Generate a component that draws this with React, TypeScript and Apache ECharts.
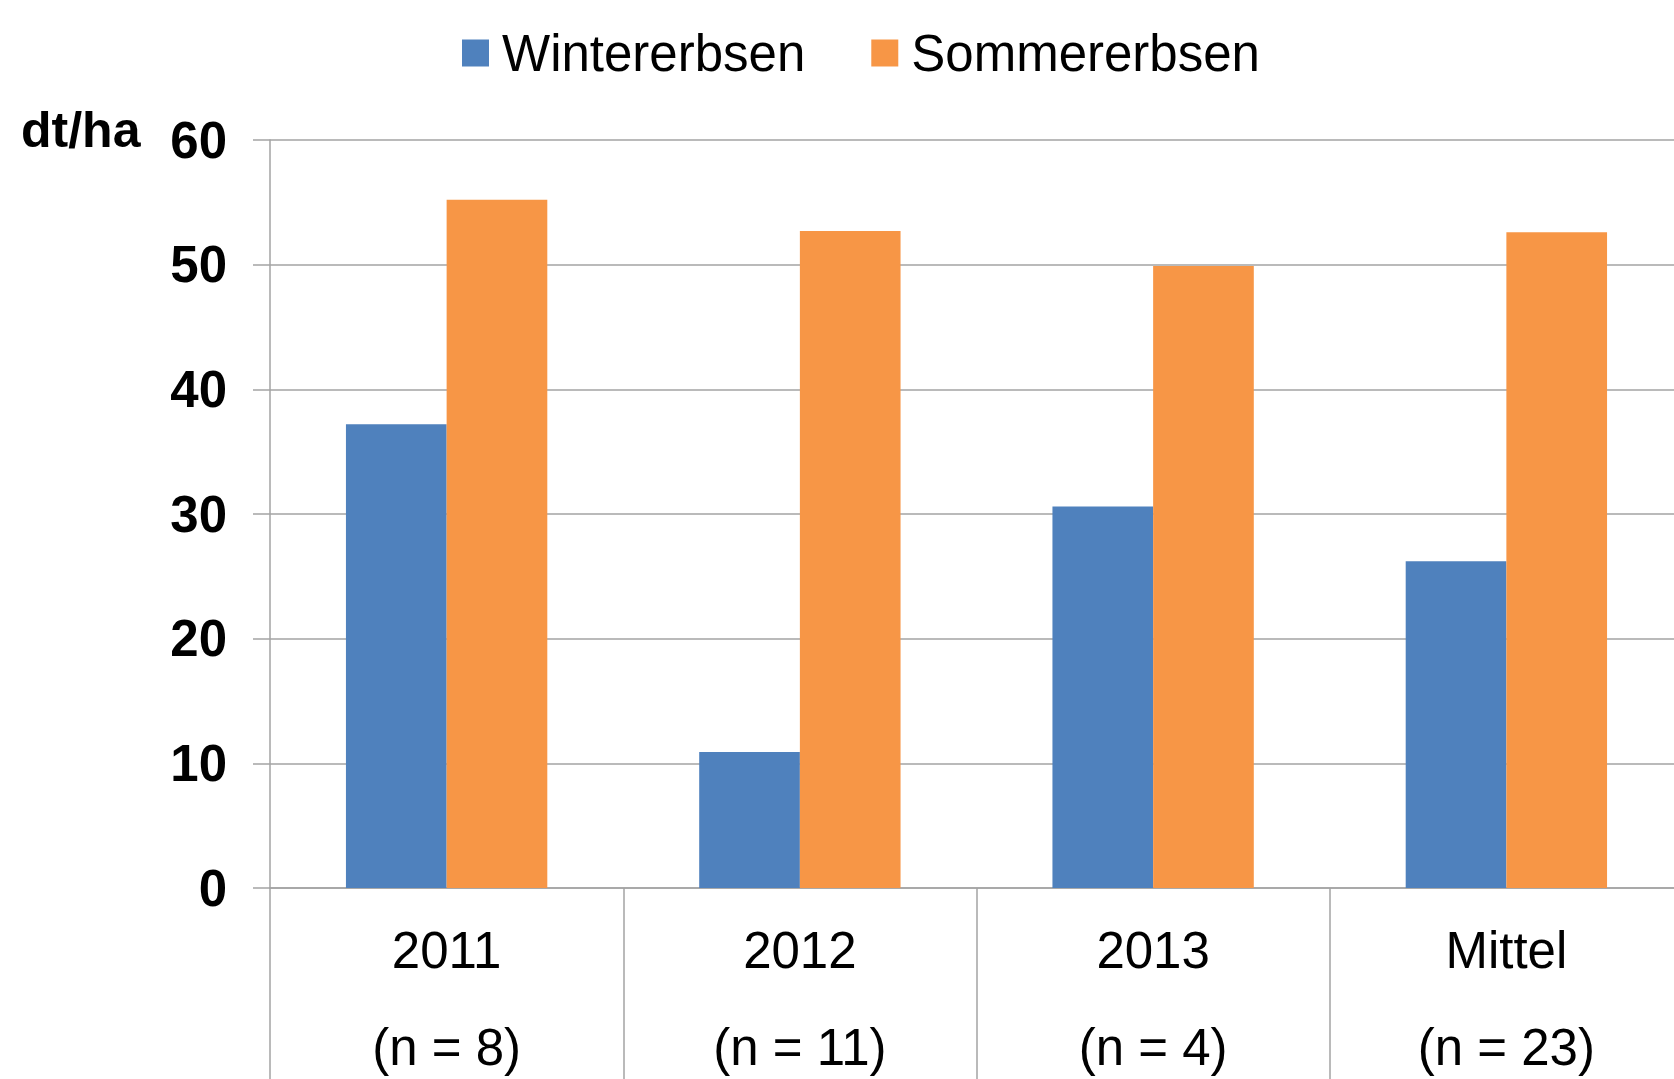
import React, { useEffect, useRef } from "react";
import * as echarts from "echarts";

const categories = ["2011", "2012", "2013", "Mittel"];
const sampleCounts = [8, 11, 4, 23];
const winterValues = [37.2, 10.9, 30.6, 26.2];
const sommerValues = [55.2, 52.7, 49.9, 52.6];
const yTicks = { min: 0, max: 60, interval: 10 };
const seriesNames = ["Wintererbsen", "Sommererbsen"];
const unitLabel = "dt/ha";

const FONT = "'Liberation Sans', Arial, Helvetica, sans-serif";
const GRID_COLOR = "#a3a3a3";

export default function App() {
  const ref = useRef<HTMLDivElement>(null);
  useEffect(() => {
    if (!ref.current) return;
    const chart = echarts.init(ref.current, undefined, { renderer: "svg" });
    const labels = categories.map((c, i) => `${c}\n(n = ${sampleCounts[i]})`);
    chart.setOption({
      animation: false,
      backgroundColor: "#ffffff",
      textStyle: { fontFamily: FONT },
      legend: {
        show: true,
        left: 457,
        top: 20,
        icon: "rect",
        itemWidth: 27,
        itemHeight: 27,
        itemGap: 66,
        data: seriesNames,
        textStyle: {
          fontFamily: FONT,
          fontSize: 51,
          color: "#000",
          lineHeight: 56,
          padding: [0, 0, 0, 8],
        },
      },
      graphic: [
        {
          type: "text",
          left: 21,
          top: 105,
          style: {
            text: unitLabel,
            font: `bold 50px ${FONT}`,
            fill: "#000",
          },
        },
      ],
      grid: {
        left: 270,
        top: 140,
        width: 1413,
        height: 748,
        containLabel: false,
        outerBoundsMode: "none",
      },
      xAxis: {
        type: "category",
        data: labels,
        boundaryGap: true,
        axisLine: { show: true, lineStyle: { color: GRID_COLOR, width: 1.5 } },
        axisTick: {
          show: true,
          interval: 0,
          alignWithLabel: false,
          length: 200,
          lineStyle: { color: GRID_COLOR, width: 1.5 },
        },
        axisLabel: {
          interval: 0,
          margin: 14,
          fontFamily: FONT,
          fontSize: 51,
          lineHeight: 97,
          color: "#000",
        },
      },
      yAxis: {
        type: "value",
        min: yTicks.min,
        max: yTicks.max,
        interval: yTicks.interval,
        axisLine: { show: true, lineStyle: { color: GRID_COLOR, width: 1.5 } },
        axisTick: { show: true, length: 17, lineStyle: { color: GRID_COLOR, width: 1.5 } },
        splitLine: { show: true, lineStyle: { color: GRID_COLOR, width: 1.5 } },
        axisLabel: {
          margin: 43,
          fontFamily: FONT,
          fontSize: 51,
          fontWeight: "bold",
          color: "#000",
        },
      },
      series: [
        {
          name: seriesNames[0],
          type: "bar",
          data: winterValues,
          barGap: "0%",
          barCategoryGap: "43%",
          itemStyle: { color: "#4F81BD" },
        },
        {
          name: seriesNames[1],
          type: "bar",
          data: sommerValues,
          barGap: "0%",
          barCategoryGap: "43%",
          itemStyle: { color: "#F79646" },
        },
      ],
    });
    return () => chart.dispose();
  }, []);
  return (
    <div
      ref={ref}
      style={{ position: "fixed", left: 0, top: 0, width: 1674, height: 1079 }}
    />
  );
}
